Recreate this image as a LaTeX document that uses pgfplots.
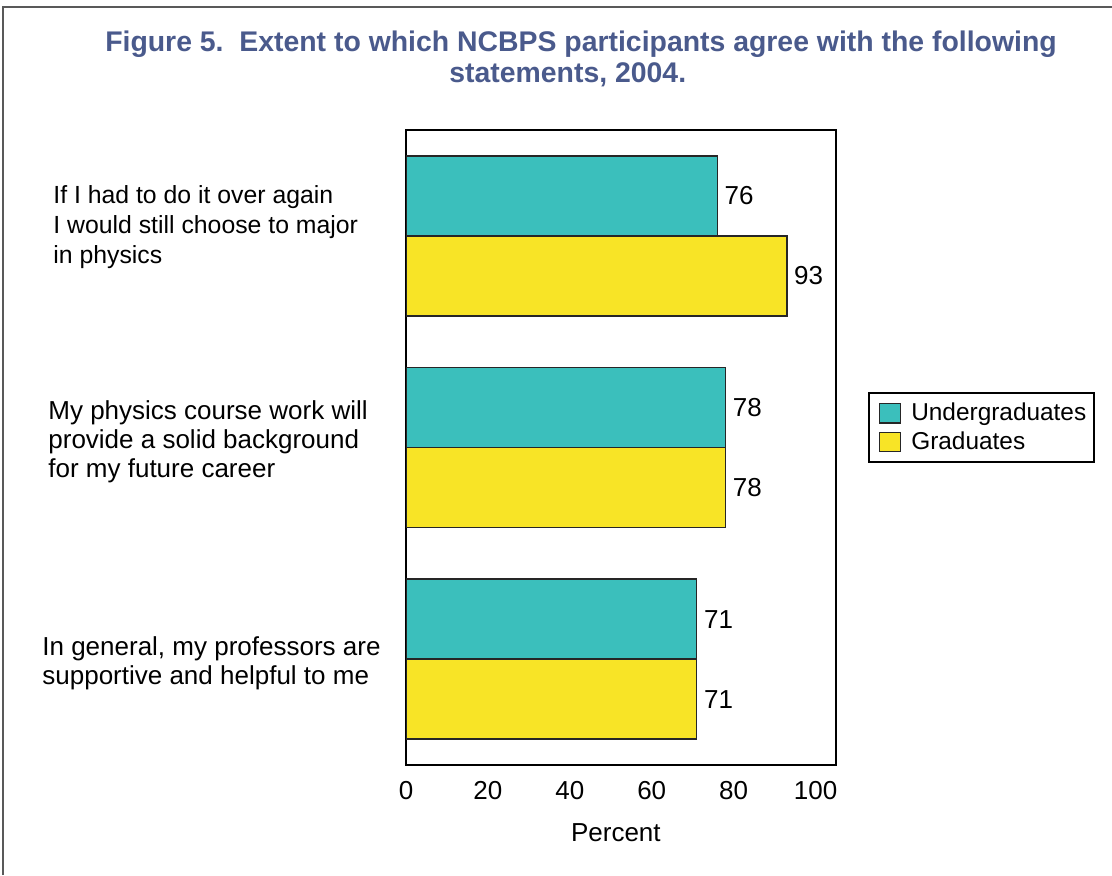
\documentclass[border=0pt]{standalone}
\usepackage{fontspec}
\setmainfont{Liberation Sans}
\usepackage{pgfplots}
\pgfplotsset{compat=1.18}
\definecolor{tealbar}{HTML}{3BBFBC}
\definecolor{yelbar}{HTML}{F8E426}
\definecolor{ttl}{HTML}{4A5A8C}
\begin{document}
\begin{tikzpicture}
\useasboundingbox (0,0) rectangle (556pt,-437.5pt);
\draw[color=black!65, line width=0.8pt] (1.5pt,-437.5pt) -- (1.5pt,-3.5pt) -- (556pt,-3.5pt);
\node[font=\fontsize{14.2}{15.5}\selectfont\bfseries, text=ttl, anchor=base] at (290.5pt,-25.7pt)
  {Figure 5.\ \ Extent to which NCBPS participants agree with the following};
\node[font=\fontsize{14.2}{15.5}\selectfont\bfseries, text=ttl, anchor=base] at (283.9pt,-41.2pt)
  {statements, 2004.};
\begin{axis}[
  at={(203pt,-65pt)}, anchor=north west,
  scale only axis, width=215pt, height=317.5pt,
  xbar, bar width=0.378,
  xmin=0, xmax=105, ymin=-0.5, ymax=2.5,
  xtick={0,20,40,60,80,100}, ytick={0,1,2},
  major tick length=0pt,
  axis line style={line width=0.9pt},
  /pgf/number format/assume math mode=true,
  tick label style={font=\fontsize{13}{15}\selectfont},
  xticklabel style={yshift=-4.5pt},
  yticklabels={
    {\raisebox{-5.5pt}[0pt][0pt]{\fontsize{13}{14.5}\selectfont\begin{tabular}{@{}l@{}}In general, my professors are\\supportive and helpful to me\end{tabular}}},
    {\hspace*{3pt}\raisebox{-0.75pt}[0pt][0pt]{\fontsize{13}{14.5}\selectfont\begin{tabular}{@{}l@{}}My physics course work will\\provide a solid background\\for my future career\end{tabular}}},
    {\hspace*{5.5pt}\raisebox{1.25pt}[0pt][0pt]{\fontsize{12.4}{15}\selectfont\begin{tabular}{@{}l@{}}If I had to do it over again\\I would still choose to major\\in physics\end{tabular}}}
  },
  yticklabel style={anchor=west, inner sep=0pt, xshift=-182pt},
  xlabel={Percent},
  xlabel style={font=\fontsize{13}{15}\selectfont, at={(axis description cs:0.488,0)}, anchor=center, yshift=-34pt},
  nodes near coords,
  every node near coord/.append style={font=\fontsize{13}{15}\selectfont, text=black, anchor=west},
  legend style={at={(1,0.5874)}, anchor=north west, xshift=16pt, draw=black, line width=0.9pt,
    font=\fontsize{12.2}{14}\selectfont, inner xsep=2pt, inner ysep=3pt, row sep=0pt,
    column sep=3pt, cells={anchor=west}},
  legend cell align=left,
  legend image code/.code={\path (0pt,0pt); \draw[#1, line width=0.7pt] (3pt,-4.8pt) rectangle (13.5pt,4.8pt);},
]
\addplot[fill=tealbar, draw=black!85, line width=0.7pt, bar shift=0.189] coordinates {(71,0) (78,1) (76,2)};
\addplot[fill=yelbar, draw=black!85, line width=0.7pt, bar shift=-0.189] coordinates {(71,0) (78,1) (93,2)};
\legend{Undergraduates, Graduates}
\end{axis}
\end{tikzpicture}
\end{document}
